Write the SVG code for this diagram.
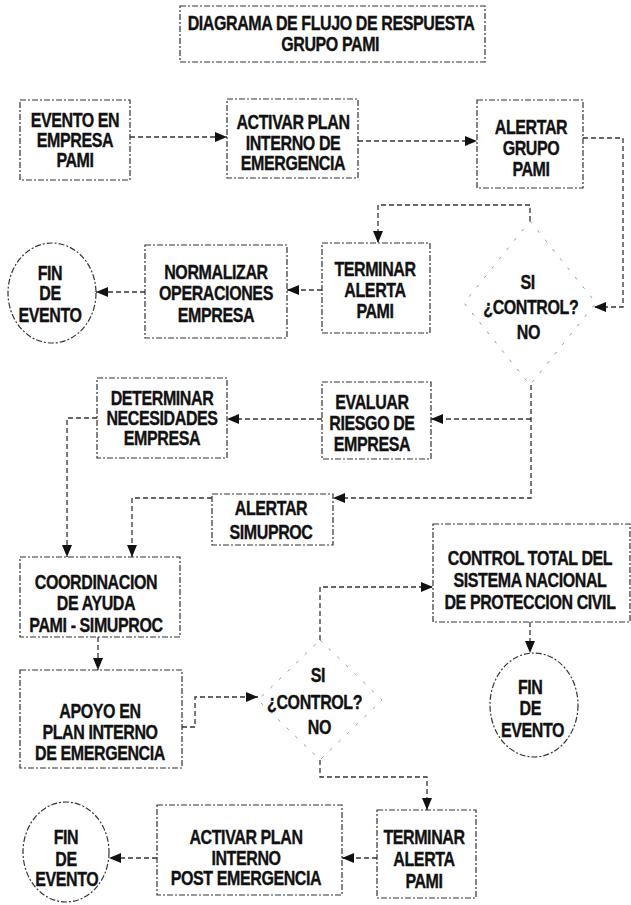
<svg xmlns="http://www.w3.org/2000/svg" width="631" height="905" viewBox="0 0 631 905">
<style>
.box{fill:none;stroke:#333;stroke-width:1.2;stroke-dasharray:6 2 2 2}
.faint{fill:none;stroke:#999;stroke-width:1;stroke-dasharray:3 9}
.conn{fill:none;stroke:#333;stroke-width:1.3;stroke-dasharray:5 3}
.t{font-family:"Liberation Sans Narrow","Arial Narrow","Liberation Sans",Arial,sans-serif;font-weight:bold;font-size:20px;text-anchor:middle;dominant-baseline:central;letter-spacing:-0.5px;fill:#111;stroke:#111;stroke-width:0.35}
</style>
<defs>
<marker id="ah" viewBox="0 0 12 10" refX="12" refY="5" markerWidth="12" markerHeight="10" markerUnits="userSpaceOnUse" orient="auto"><path d="M0,0 L12,5 L0,10 z" fill="#111"/></marker>
</defs>
<rect width="631" height="905" fill="#fff"/>

<g id="title">
<rect class="box" x="180" y="6" width="305" height="56"/>
<g transform="matrix(0.8 0 0 1 66.2 0)">
<text class="t" x="331" y="23.5">DIAGRAMA DE FLUJO DE RESPUESTA</text>
<text class="t" x="330" y="44">GRUPO PAMI</text>
</g>
</g>

<g id="evento">
<rect class="box" x="20" y="100" width="110" height="80"/>
<g transform="matrix(0.8 0 0 1 15 0)">
<text class="t" x="75" y="120">EVENTO EN</text>
<text class="t" x="75" y="140">EMPRESA</text>
<text class="t" x="75" y="160">PAMI</text>
</g>
</g>

<g id="activar">
<rect class="box" x="227" y="99" width="131" height="79"/>
<g transform="matrix(0.8 0 0 1 58.6 0)">
<text class="t" x="293" y="122">ACTIVAR PLAN</text>
<text class="t" x="293" y="143">INTERNO DE</text>
<text class="t" x="293" y="163">EMERGENCIA</text>
</g>
</g>

<g id="alertar-grupo">
<rect class="box" x="477" y="100" width="106" height="88"/>
<g transform="matrix(0.8 0 0 1 106.2 0)">
<text class="t" x="531" y="127">ALERTAR</text>
<text class="t" x="531" y="148">GRUPO</text>
<text class="t" x="531" y="169">PAMI</text>
</g>
</g>

<g id="fin1">
<ellipse class="box" cx="52" cy="293" rx="44" ry="50"/>
<g transform="matrix(0.8 0 0 1 10 0)">
<text class="t" x="50" y="273">FIN</text>
<text class="t" x="50" y="293">DE</text>
<text class="t" x="50" y="315">EVENTO</text>
</g>
</g>

<g id="normalizar">
<rect class="box" x="145" y="245" width="142" height="93"/>
<g transform="matrix(0.8 0 0 1 43.2 0)">
<text class="t" x="216" y="272">NORMALIZAR</text>
<text class="t" x="216" y="293">OPERACIONES</text>
<text class="t" x="216" y="315">EMPRESA</text>
</g>
</g>

<g id="terminar1">
<rect class="box" x="322" y="243" width="108" height="90"/>
<g transform="matrix(0.8 0 0 1 75 0)">
<text class="t" x="375" y="269">TERMINAR</text>
<text class="t" x="375" y="290">ALERTA</text>
<text class="t" x="375" y="311">PAMI</text>
</g>
</g>

<g id="control1">
<polygon class="faint" points="530,221 596,303 530,385 464,303"/>
<g transform="matrix(0.8 0 0 1 106 0)">
<text class="t" x="527" y="282">SI</text>
<text class="t" x="531" y="307">¿CONTROL?</text>
<text class="t" x="528" y="332">NO</text>
</g>
</g>

<g id="determinar">
<rect class="box" x="97" y="378" width="130" height="80"/>
<g transform="matrix(0.8 0 0 1 32.4 0)">
<text class="t" x="162" y="398">DETERMINAR</text>
<text class="t" x="162" y="418">NECESIDADES</text>
<text class="t" x="162" y="438">EMPRESA</text>
</g>
</g>

<g id="evaluar">
<rect class="box" x="322" y="382" width="109" height="77"/>
<g transform="matrix(0.8 0 0 1 74.4 0)">
<text class="t" x="372" y="402">EVALUAR</text>
<text class="t" x="372" y="423">RIESGO DE</text>
<text class="t" x="372" y="444">EMPRESA</text>
</g>
</g>

<g id="alertar-simuproc">
<rect class="box" x="212" y="494" width="121" height="51"/>
<g transform="matrix(0.8 0 0 1 54.2 0)">
<text class="t" x="271" y="508">ALERTAR</text>
<text class="t" x="271" y="532">SIMUPROC</text>
</g>
</g>

<g id="coordinacion">
<rect class="box" x="20" y="557" width="160" height="80"/>
<g transform="matrix(0.8 0 0 1 19.2 0)">
<text class="t" x="96" y="582">COORDINACION</text>
<text class="t" x="96" y="603">DE AYUDA</text>
<text class="t" x="96" y="625">PAMI - SIMUPROC</text>
</g>
</g>

<g id="control-total">
<rect class="box" x="433" y="524" width="197" height="98"/>
<g transform="matrix(0.8 0 0 1 106 0)">
<text class="t" x="530" y="558">CONTROL TOTAL DEL</text>
<text class="t" x="530" y="580">SISTEMA NACIONAL</text>
<text class="t" x="530" y="602">DE PROTECCION CIVIL</text>
</g>
</g>

<g id="fin2">
<ellipse class="box" cx="534" cy="705" rx="44" ry="52"/>
<g transform="matrix(0.8 0 0 1 106.2 0)">
<text class="t" x="530" y="687">FIN</text>
<text class="t" x="530" y="708">DE</text>
<text class="t" x="533" y="730">EVENTO</text>
</g>
</g>

<g id="apoyo">
<rect class="box" x="20" y="670" width="162" height="98"/>
<g transform="matrix(0.8 0 0 1 20 0)">
<text class="t" x="100" y="711">APOYO EN</text>
<text class="t" x="100" y="732">PLAN INTERNO</text>
<text class="t" x="100" y="753">DE EMERGENCIA</text>
</g>
</g>

<g id="control2">
<polygon class="faint" points="320,640 382,700 320,760 258,700"/>
<g transform="matrix(0.8 0 0 1 63.4 0)">
<text class="t" x="318" y="675">SI</text>
<text class="t" x="314" y="702">¿CONTROL?</text>
<text class="t" x="320" y="727">NO</text>
</g>
</g>

<g id="fin3">
<ellipse class="box" cx="66" cy="852" rx="43" ry="50"/>
<g transform="matrix(0.8 0 0 1 13.2 0)">
<text class="t" x="66" y="837">FIN</text>
<text class="t" x="66" y="859">DE</text>
<text class="t" x="67" y="879">EVENTO</text>
</g>
</g>

<g id="activar-post">
<rect class="box" x="157" y="805" width="185" height="90"/>
<g transform="matrix(0.8 0 0 1 49.2 0)">
<text class="t" x="246" y="837">ACTIVAR PLAN</text>
<text class="t" x="246" y="858">INTERNO</text>
<text class="t" x="246" y="878">POST EMERGENCIA</text>
</g>
</g>

<g id="terminar2">
<rect class="box" x="377" y="810" width="99" height="88"/>
<g transform="matrix(0.8 0 0 1 84.8 0)">
<text class="t" x="424" y="837">TERMINAR</text>
<text class="t" x="424" y="859">ALERTA</text>
<text class="t" x="424" y="881">PAMI</text>
</g>
</g>

<g id="connectors">
<path class="conn" d="M130,137 H227" marker-end="url(#ah)"/>
<path class="conn" d="M358,141 H477" marker-end="url(#ah)"/>
<path class="conn" d="M583,138 H623 V307 H594" marker-end="url(#ah)"/>
<path class="conn" d="M530,221 V205 H378 V243" marker-end="url(#ah)"/>
<path class="conn" d="M322,290 H287" marker-end="url(#ah)"/>
<path class="conn" d="M145,292 H96" marker-end="url(#ah)"/>
<path class="conn" d="M531,385 V498 H333" marker-end="url(#ah)"/>
<path class="conn" d="M531,419 H431" marker-end="url(#ah)"/>
<path class="conn" d="M322,419 H227" marker-end="url(#ah)"/>
<path class="conn" d="M97,418 H67 V557" marker-end="url(#ah)"/>
<path class="conn" d="M212,498 H132 V557" marker-end="url(#ah)"/>
<path class="conn" d="M98,637 V670" marker-end="url(#ah)"/>
<path class="conn" d="M182,727 H195 V697 H258" marker-end="url(#ah)"/>
<path class="conn" d="M320,640 V587 H433" marker-end="url(#ah)"/>
<path class="conn" d="M530,622 V653" marker-end="url(#ah)"/>
<path class="conn" d="M320,760 V777 H427 V810" marker-end="url(#ah)"/>
<path class="conn" d="M377,858 H342" marker-end="url(#ah)"/>
<path class="conn" d="M157,858 H109" marker-end="url(#ah)"/>
</g>
</svg>
